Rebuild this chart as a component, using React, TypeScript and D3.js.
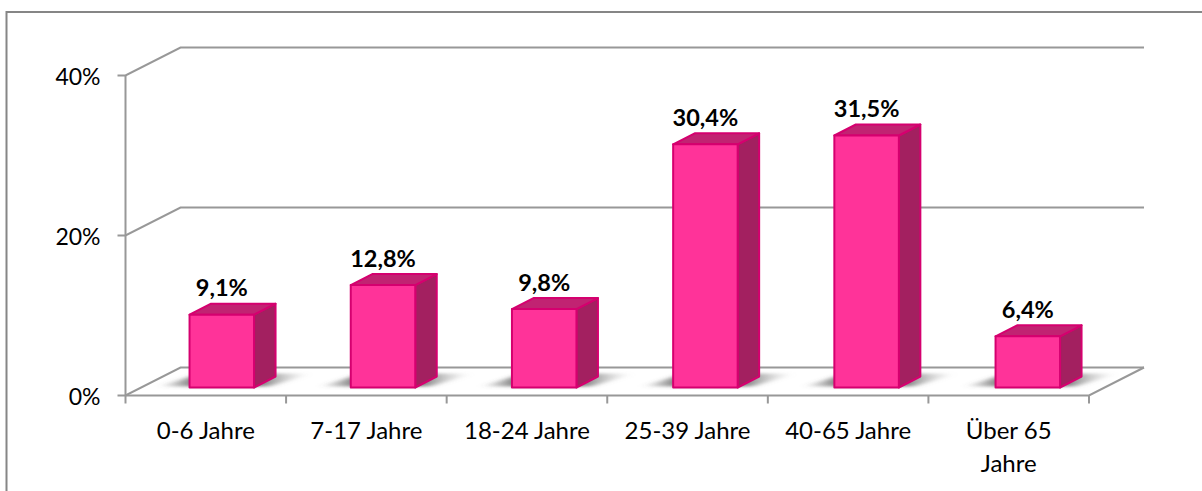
import React from "react";
import * as d3 from "d3";

const categories = ["0-6 Jahre", "7-17 Jahre", "18-24 Jahre", "25-39 Jahre", "40-65 Jahre", "Über 65|Jahre"];
const values = [9.1, 12.8, 9.8, 30.4, 31.5, 6.4];
const valueLabels = ["9,1%", "12,8%", "9,8%", "30,4%", "31,5%", "6,4%"];
const yTicks = [0, 20, 40];

const W = 1202, H = 491;
const FONT = "Lato, Carlito, 'Open Sans', sans-serif";
const GRID = "#989898";
const depthX = 55, depthY = -28;
const barDX = 21.5, barDY = -11;

export default function App() {
  const x = d3.scaleBand<string>().domain(categories).range([125.5, 1089]);
  const xBar = d3.scaleBand<string>().domain(categories).range([141.2, 1108.4]);
  const y = d3.scaleLinear().domain([0, 40]).range([395.5, 75.5]);
  const h = d3.scaleLinear().domain([0, 40]).range([0, 320]);
  const barBase = 387.5;
  const barW = 64.5;
  const x0 = x.range()[0], x1 = x.range()[1];
  const line = d3.line();
  const pts = (p: [number, number][]) => line(p) + "Z";
  const barLeft = (c: string) => xBar(c)! + xBar.bandwidth() / 2 - barW / 2;

  return (
    <svg width={W} height={H} style={{ position: "absolute", left: 0, top: 0, background: "#fff" }} fontFamily={FONT}>
      <defs>
        <filter id="shadowBlur" x="-30%" y="-60%" width="160%" height="220%">
          <feGaussianBlur stdDeviation="5 1.5" />
        </filter>
        <linearGradient id="shadowFill" x1="0" x2="1" y1="0" y2="0">
          <stop offset="0" stopColor="#555" stopOpacity="0" />
          <stop offset="0.22" stopColor="#555" stopOpacity="0.75" />
          <stop offset="0.65" stopColor="#555" stopOpacity="0.8" />
          <stop offset="0.97" stopColor="#999" stopOpacity="0" />
        </linearGradient>
      </defs>

      <path d="M1202,12 H6.5 V491" fill="none" stroke="#868686" strokeWidth={2} />

      {/* walls and gridlines */}
      <path d={line([[x0, y(40)], [x0, y(0)]])!} stroke={GRID} strokeWidth={2} fill="none" />
      {yTicks.map((t) => (
        <g key={t}>
          <path
            d={line([[x0 - 8, y(t)], [x0, y(t)], [x0 + depthX, y(t) + depthY], [1144, y(t) + depthY]])!}
            stroke={GRID}
            strokeWidth={2}
            fill="none"
          />
          <text x={100.5} y={y(t) + 1} dy="0.36em" textAnchor="end" fontSize={23} fill="#000">
            {t}%
          </text>
        </g>
      ))}

      {/* floor front edge */}
      <path d={line([[x0, y(0)], [x1, y(0)], [1144, y(0) + depthY]])!} stroke={GRID} strokeWidth={2} fill="none" />
      {categories.map((c, i) => (
        <path
          key={c}
          d={line([[x0 + i * x.step(), y(0)], [x0 + i * x.step(), y(0) + 8]])!}
          stroke={GRID}
          strokeWidth={2}
        />
      ))}
      <path d={line([[x1, y(0)], [x1, y(0) + 8]])!} stroke={GRID} strokeWidth={2} />

      {/* shadows */}
      {categories.map((c) => {
        const l = barLeft(c);
        return (
          <path
            key={c}
            d={pts([[l - 30, barBase - 1], [l + barW + 14, barBase - 1], [l + barW + 58, barBase - 14], [l + 12, barBase - 14]])}
            fill="url(#shadowFill)"
            filter="url(#shadowBlur)"
          />
        );
      })}

      {/* bars */}
      {categories.map((c, i) => {
        const l = barLeft(c);
        const r = l + barW;
        const t = barBase - h(values[i]);
        return (
          <g key={c} stroke="#D5006F" strokeWidth={2} strokeLinejoin="round">
            <path d={pts([[r, t], [r + barDX, t + barDY], [r + barDX, barBase + barDY], [r, barBase]])} fill="#A32060" />
            <path d={pts([[l, t], [l + barDX, t + barDY], [r + barDX, t + barDY], [r, t]])} fill="#C12372" />
            <rect x={l} y={t} width={barW} height={barBase - t} fill="#FF3399" />
            <text
              x={(l + r) / 2}
              y={t - 27}
              dy="0.36em"
              textAnchor="middle"
              fontSize={23.5}
              fontWeight={700}
              fill="#000"
              stroke="none"
            >
              {valueLabels[i]}
            </text>
          </g>
        );
      })}

      {/* category labels */}
      {categories.map((c) => {
        const cx = x(c)! + x.bandwidth() / 2;
        return c.split("|").map((part, k) => (
          <text key={part} x={cx} y={430 + k * 33} dy="0.36em" textAnchor="middle" fontSize={24} fill="#000">
            {part}
          </text>
        ));
      })}
    </svg>
  );
}
